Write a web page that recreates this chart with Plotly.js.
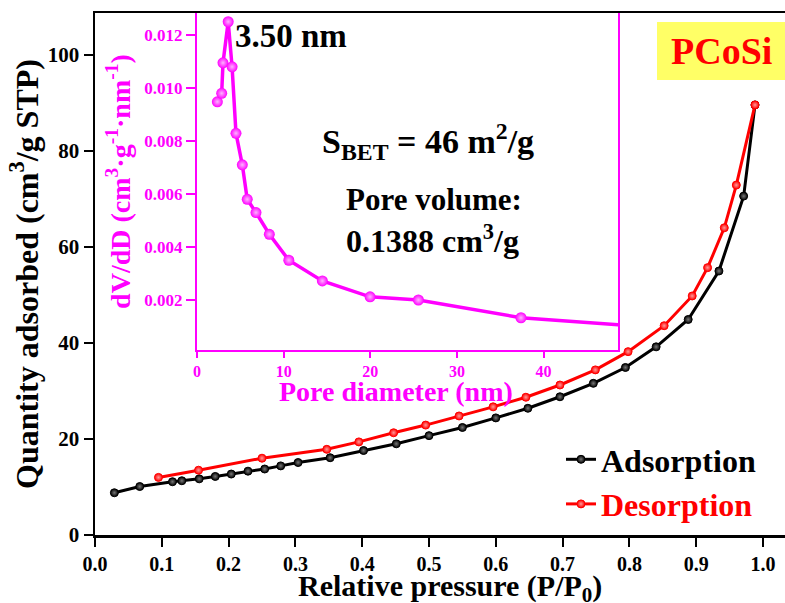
<!DOCTYPE html>
<html><head><meta charset="utf-8">
<script src="https://cdn.plot.ly/plotly-3.0.1.min.js"></script>
<style>body{margin:0;background:#fff}</style>
</head><body><div id="chart" style="width:785px;height:603px"></div>
<script>
// Isotherm data (relative pressure P/P0 vs quantity adsorbed, cm3/g STP)
const adsP = [0.029,0.067,0.116,0.130,0.156,0.180,0.204,0.229,0.254,0.278,0.304,0.352,0.402,0.451,0.500,0.550,0.600,0.648,0.696,0.746,0.794,0.840,0.888,0.934,0.971,0.988];
const adsQ = [8.8,10.1,11.1,11.3,11.7,12.2,12.7,13.3,13.75,14.4,15.1,16.1,17.6,19.0,20.7,22.4,24.4,26.4,28.8,31.6,34.9,39.2,44.9,55.0,70.6,89.6];
const desP = [0.988,0.960,0.942,0.917,0.894,0.852,0.798,0.749,0.696,0.645,0.596,0.545,0.495,0.447,0.395,0.347,0.250,0.155,0.095];
const desQ = [89.6,72.9,64.0,55.7,49.8,43.6,38.2,34.4,31.25,28.7,26.7,24.8,22.9,21.3,19.4,17.85,16.0,13.5,12.0];
// Pore size distribution (inset)
const poreD = [2.35,2.85,3.0,3.6,4.05,4.5,5.23,5.8,6.81,8.35,10.6,14.47,19.98,25.56,37.4,60];
const dVdD  = [0.00948,0.0098,0.01095,0.0125,0.0108,0.00829,0.0071,0.0058,0.0053,0.00448,0.0035,0.00272,0.00212,0.0020,0.00133,0.0008];
// Tick labels
const mainXTicks = [0,0.1,0.2,0.3,0.4,0.5,0.6,0.7,0.8,0.9,1.0];
const mainYTicks = [0,20,40,60,80,100];
const insetXTicks = [0,10,20,30,40];
const insetYTicks = [0.002,0.004,0.006,0.008,0.010,0.012];

const FF = 'Liberation Serif, Times New Roman, serif';
const MAG = '#FF00FF';

const traces = [
  {x: adsP, y: adsQ, name: 'Adsorption', type: 'scatter', mode: 'lines+markers',
   line: {color: '#000', width: 3},
   marker: {symbol: 'circle', size: 8, color: '#000', line: {color: '#000', width: 1},
            gradient: {type: 'radial', color: '#777'}},
   xaxis: 'x', yaxis: 'y'},
  {x: desP, y: desQ, name: '<span style="color:#FF0000">Desorption</span>', type: 'scatter', mode: 'lines+markers',
   line: {color: '#FF0000', width: 3},
   marker: {symbol: 'circle', size: 8, color: '#FF0000', line: {color: '#FF0000', width: 1},
            gradient: {type: 'radial', color: '#ff9999'}},
   xaxis: 'x', yaxis: 'y'},
  {x: poreD, y: dVdD, name: 'PSD', type: 'scatter', mode: 'lines+markers', showlegend: false,
   line: {color: MAG, width: 3.5},
   marker: {symbol: 'circle', size: 11, color: MAG, gradient: {type: 'radial', color: '#ffb3ff'}},
   xaxis: 'x2', yaxis: 'y2'}
];

const px = v => (v - 95) / 690;
const py = v => (535 - v) / 522;
const bold = (size, color) => ({family: FF, size: size, color: color, weight: 'bold'});

const layout = {
  width: 785, height: 603,
  margin: {l: 95, r: 0, t: 13, b: 68},
  paper_bgcolor: '#fff', plot_bgcolor: '#fff',
  font: bold(16, '#000'),
  showlegend: true,
  legend: {x: px(561), y: py(432), xanchor: 'left', yanchor: 'top',
           font: bold(32, '#000'), bgcolor: 'rgba(0,0,0,0)', tracegroupgap: 0},
  xaxis: {domain: [0, 1], range: [0, 1.0329], tickvals: mainXTicks, tickformat: '.1f',
          showline: true, linecolor: '#000', linewidth: 2.5, mirror: true,
          ticks: 'outside', ticklen: 9, tickwidth: 2, tickcolor: '#000',
          showgrid: false, zeroline: false,
          tickfont: bold(20, '#000')},
  yaxis: {domain: [0, 1], range: [0, 108.75], tickvals: mainYTicks,
          showline: true, linecolor: '#000', linewidth: 2.5,
          ticks: 'outside', ticklen: 9, tickwidth: 2, tickcolor: '#000',
          showgrid: false, zeroline: false,
          tickfont: bold(21, '#000'),
          title: {text: 'Quantity adsorbed (cm<sup>3</sup>/g STP)', standoff: 0, font: bold(32, '#000')}},
  xaxis2: {domain: [px(197), px(618)], anchor: 'y2', range: [0, 48.6], tickvals: insetXTicks,
           showline: true, linecolor: MAG, linewidth: 2,
           ticks: 'outside', ticklen: 6, tickwidth: 2, tickcolor: MAG,
           showgrid: false, zeroline: false,
           tickfont: bold(16, MAG)},
  yaxis2: {domain: [py(350), 1], anchor: 'x2', range: [0.000113, 0.01283], tickvals: insetYTicks,
           tickformat: '.3f',
           showline: true, linecolor: MAG, linewidth: 2, mirror: true,
           ticks: 'outside', ticklen: 9, tickwidth: 2, tickcolor: MAG,
           showgrid: false, zeroline: false,
           tickfont: bold(17, MAG),
           title: {text: 'dV/dD (cm<sup>3</sup>·g<sup>-1</sup>·nm<sup>-1</sup>)', standoff: 6, font: bold(28, MAG)}},
  shapes: [
    {type: 'rect', xref: 'paper', yref: 'paper', x0: px(657), x1: 1.0, y0: py(80), y1: py(22),
     fillcolor: '#FFFF66', line: {width: 0}, layer: 'below'}
  ],
  annotations: [
    // main x-axis title
    {xref: 'paper', yref: 'paper', x: px(450), y: py(588), xanchor: 'center', yanchor: 'middle',
     text: 'Relative pressure (P/P<sub>0</sub>)', showarrow: false, font: bold(30, '#000')},
    // inset x-axis title
    {xref: 'paper', yref: 'paper', x: px(396), y: py(391), xanchor: 'center', yanchor: 'middle',
     text: 'Pore diameter (nm)', showarrow: false, font: bold(28, MAG)},
    {xref: 'paper', yref: 'paper', x: px(721), y: py(51), xanchor: 'center', yanchor: 'middle',
     text: 'PCoSi', showarrow: false, font: bold(38, '#FF0000')},
    {xref: 'paper', yref: 'paper', x: px(233), y: py(36), xanchor: 'left', yanchor: 'middle',
     text: '3.50 nm', showarrow: false, font: bold(33, '#000')},
    {xref: 'paper', yref: 'paper', x: px(428), y: py(141), xanchor: 'center', yanchor: 'middle',
     text: 'S<sub>BET</sub> = 46 m<sup>2</sup>/g', showarrow: false, font: bold(34, '#000')},
    {xref: 'paper', yref: 'paper', x: px(434), y: py(199), xanchor: 'center', yanchor: 'middle',
     text: 'Pore volume:', showarrow: false, font: bold(31, '#000')},
    {xref: 'paper', yref: 'paper', x: px(432), y: py(239), xanchor: 'center', yanchor: 'middle',
     text: '0.1388 cm<sup>3</sup>/g', showarrow: false, font: bold(32, '#000')}
  ]
};

Plotly.newPlot('chart', traces, layout, {displayModeBar: false, staticPlot: true});
</script></body></html>
